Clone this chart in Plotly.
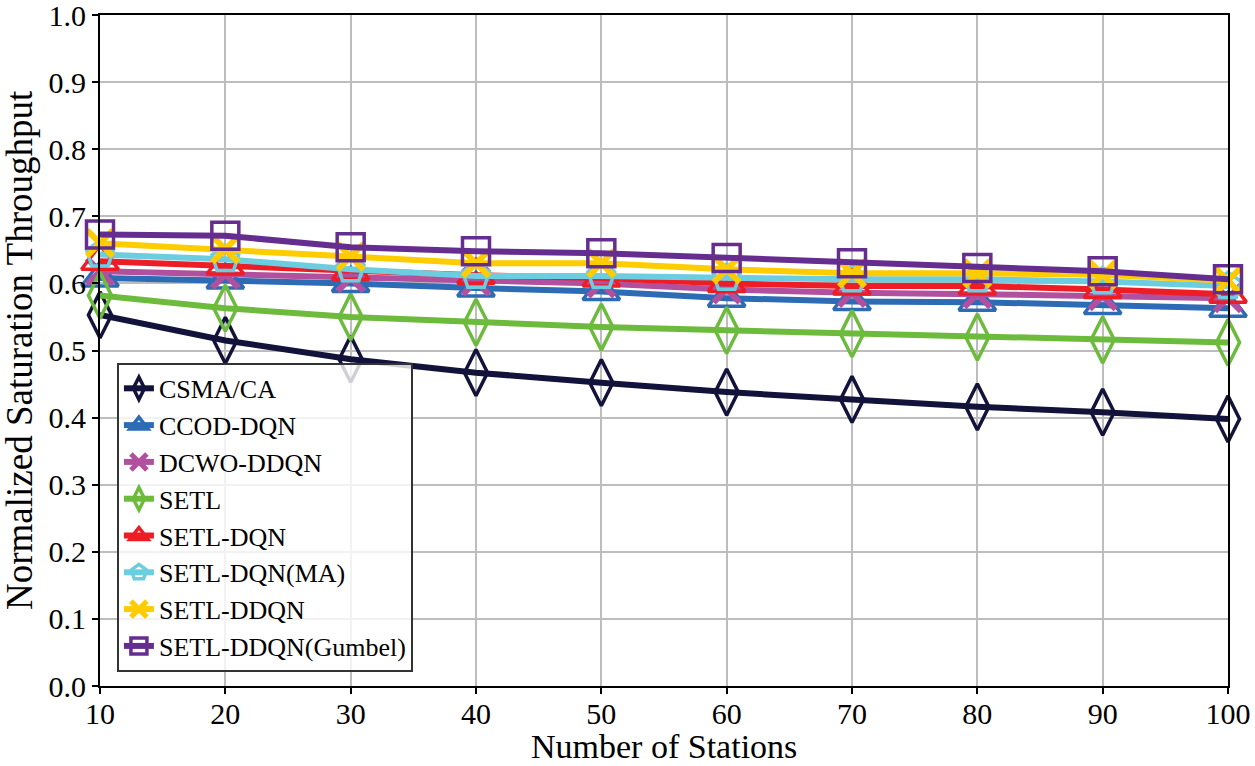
import plotly.graph_objects as go

stations = [10, 20, 30, 40, 50, 60, 70, 80, 90, 100]

csma_ca = [0.553, 0.515, 0.487, 0.467, 0.452, 0.438, 0.427, 0.416, 0.408, 0.398]
ccod_dqn = [0.608, 0.605, 0.600, 0.593, 0.588, 0.578, 0.573, 0.572, 0.567, 0.563]
dcwo_ddqn = [0.618, 0.613, 0.608, 0.603, 0.600, 0.591, 0.586, 0.584, 0.581, 0.578]
setl = [0.582, 0.563, 0.550, 0.542, 0.535, 0.530, 0.525, 0.520, 0.516, 0.512]
setl_dqn = [0.633, 0.626, 0.618, 0.612, 0.608, 0.600, 0.596, 0.596, 0.591, 0.584]
setl_dqn_ma = [0.643, 0.636, 0.621, 0.611, 0.611, 0.608, 0.606, 0.606, 0.603, 0.596]
setl_ddqn = [0.660, 0.651, 0.640, 0.630, 0.630, 0.621, 0.615, 0.615, 0.613, 0.604]
setl_ddqn_gumbel = [0.673, 0.671, 0.654, 0.648, 0.645, 0.638, 0.630, 0.623, 0.618, 0.606]

y_ticks = [0.0, 0.1, 0.2, 0.3, 0.4, 0.5, 0.6, 0.7, 0.8, 0.9, 1.0]
y_tick_labels = ["0.0", "0.1", "0.2", "0.3", "0.4", "0.5", "0.6", "0.7", "0.8", "0.9", "1.0"]

names = ["CSMA/CA", "CCOD-DQN", "DCWO-DDQN", "SETL", "SETL-DQN",
         "SETL-DQN(MA)", "SETL-DDQN", "SETL-DDQN(Gumbel)"]
series = [csma_ca, ccod_dqn, dcwo_ddqn, setl, setl_dqn, setl_dqn_ma, setl_ddqn, setl_ddqn_gumbel]
colors = ["#12123a", "#2e6bb5", "#b0509e", "#6cbb3c", "#ee1c25", "#6ccde0", "#ffcc00", "#662d91"]
symbols = ["diamond-tall-open", "triangle-up-open", "x-thin-open", "diamond-tall-open",
           "triangle-up-open", "pentagon-open", "x-thin-open", "square-open"]
sizes = [33, 32, 26, 33, 32, 28, 26, 27]
mlw = [3.5, 3.5, 6, 3.5, 3.5, 3.5, 6, 3.5]

fig = go.Figure()
for n, y, c, s, sz, w in zip(names, series, colors, symbols, sizes, mlw):
    fig.add_trace(go.Scatter(
        x=stations, y=y, name=n, mode="lines+markers",
        line=dict(color=c, width=6),
        marker=dict(symbol=s, size=sz, color=c, line=dict(color=c, width=w)),
        cliponaxis=False,
    ))

axis_common = dict(
    showline=True, linecolor="black", linewidth=2, mirror=True,
    ticks="outside", ticklen=6, tickwidth=1.5, tickcolor="black",
    showgrid=True, gridcolor="#bdbdbd", gridwidth=1.5, zeroline=False,
    automargin=False, ticklabeloverflow="allow",
    tickfont=dict(family="Liberation Serif", size=30, color="black"),
)

fig.update_layout(
    width=1255, height=766,
    margin=dict(l=100, r=27, t=15, b=80),
    paper_bgcolor="white", plot_bgcolor="white",
    font=dict(family="Liberation Serif", color="black"),
    xaxis=dict(range=[10, 100], tickmode="array", tickvals=stations,
               ticklabelstandoff=-6, **axis_common),
    yaxis=dict(range=[0, 1.0], tickmode="array",
               tickvals=y_ticks, ticktext=y_tick_labels, **axis_common),
    legend=dict(x=0.015, y=0.021, xanchor="left", yanchor="bottom",
                bgcolor="rgba(255,255,255,0.8)", bordercolor="#333333", borderwidth=2,
                font=dict(family="Liberation Serif", size=26, color="black"),
                tracegroupgap=0, itemwidth=30),
    showlegend=True,
    annotations=[
        dict(text="Number of Stations", xref="paper", yref="paper",
             x=0.5, y=0, xanchor="center", yanchor="top", yshift=-40,
             showarrow=False, font=dict(family="Liberation Serif", size=34, color="black")),
        dict(text="Normalized Saturation Throughput", xref="paper", yref="paper",
             x=0, y=0.5, xanchor="right", yanchor="middle", xshift=-58, textangle=-90,
             showarrow=False, font=dict(family="Liberation Serif", size=37, color="black")),
    ],
)

fig.write_html("out.html", config={"displayModeBar": False},
               post_script="document.body.style.margin='0';document.body.style.overflow='hidden';")
